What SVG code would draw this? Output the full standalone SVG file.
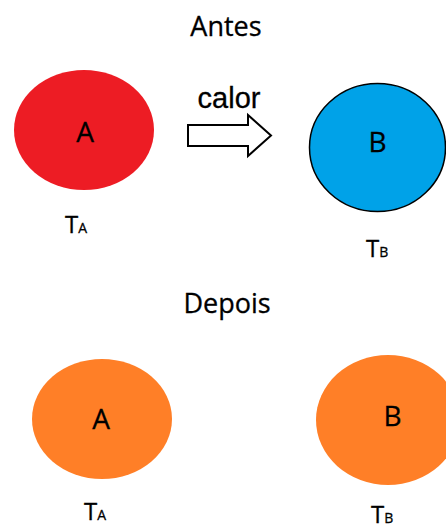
<svg xmlns="http://www.w3.org/2000/svg" width="446" height="530" viewBox="0 0 446 530">
  <style>
    .title { font-family: "Open Sans", "Noto Sans", sans-serif; font-size: 27px; fill: #000; text-anchor: middle; }
    .letter { font-family: "Open Sans", "Noto Sans", sans-serif; font-size: 28px; fill: #000; text-anchor: middle; }
    .temp { font-family: "Open Sans", "Noto Sans", sans-serif; font-size: 24px; fill: #000; }
    .sub { font-size: 14px; }
    .heat { font-family: "Liberation Sans", Arial, sans-serif; font-size: 29px; fill: #000; text-anchor: middle; }
    text { stroke: #000; stroke-width: 0.3; }
    .red { fill: #ED1C24; }
    .blue { fill: #00A2E8; stroke: #000; stroke-width: 1.5; }
    .orange { fill: #FF7F27; }
  </style>

  <rect width="446" height="530" fill="#fff"/>

  <!-- Before -->
  <text class="title" x="226" y="36">Antes</text>

  <g id="bodyA-before">
    <ellipse class="red" cx="84" cy="130" rx="70" ry="60"/>
    <text class="letter" x="85" y="142">A</text>
    <text class="temp" x="65" y="233">T<tspan class="sub">A</tspan></text>
  </g>

  <g id="bodyB-before">
    <ellipse class="blue" cx="377.5" cy="147.5" rx="68" ry="64"/>
    <text class="letter" x="377.5" y="152">B</text>
    <text class="temp" x="366" y="257">T<tspan class="sub">B</tspan></text>
  </g>

  <g id="connectors">
    <text class="heat" x="229" y="108">calor</text>
    <polygon points="188,125 248,125 248,115 271,135.5 248,156 248,146 188,146" fill="#fff" stroke="#000" stroke-width="2" stroke-linejoin="miter"/>
  </g>

  <!-- After -->
  <text class="title" x="227" y="313">Depois</text>

  <g id="bodyA-after">
    <ellipse class="orange" cx="102" cy="419" rx="70" ry="60"/>
    <text class="letter" x="101" y="429">A</text>
    <text class="temp" x="84" y="520">T<tspan class="sub">A</tspan></text>
  </g>

  <g id="bodyB-after">
    <ellipse class="orange" cx="388" cy="420" rx="72" ry="65"/>
    <text class="letter" x="392.5" y="426">B</text>
    <text class="temp" x="371" y="523">T<tspan class="sub">B</tspan></text>
  </g>
</svg>
